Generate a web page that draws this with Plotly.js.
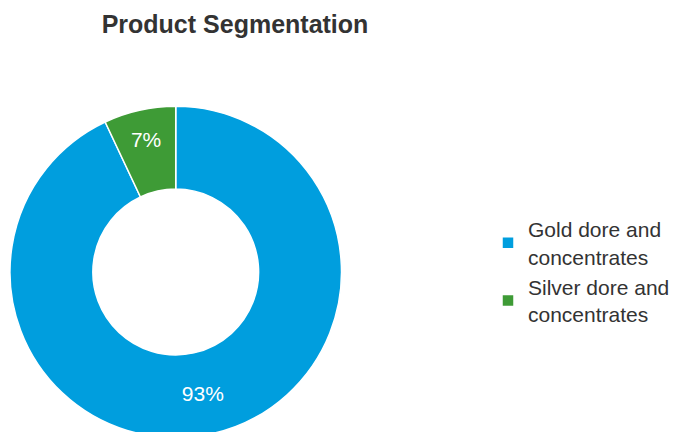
<!DOCTYPE html>
<html>
<head>
<meta charset="utf-8">
<script src="https://cdn.plot.ly/plotly-3.0.1.min.js"></script>
<style>
html,body{margin:0;padding:0;overflow:hidden;background:#fff;}
#chart{width:675px;height:440px;}
</style>
</head>
<body>
<div id="chart"></div>
<script>
const categories = ["Gold dore and<br>concentrates", "Silver dore and<br>concentrates"];
const shares = [93, 7];
const labelsText = ["93%", "7%"];
const colors = ["#009EDE", "#3E9B36"];

const W = 675, H = 440;
const trace = {
  type: "pie",
  labels: categories,
  values: shares,
  text: labelsText,
  textinfo: "text",
  textposition: "inside",
  insidetextorientation: "horizontal",
  insidetextfont: {family: "Liberation Sans, Arial, sans-serif", size: 21, color: "#ffffff"},
  hole: 0.5,
  sort: false,
  direction: "clockwise",
  rotation: 0,
  marker: {colors: colors, line: {color: "#ffffff", width: 1.5}},
  domain: {x: [10 / W, 342 / W], y: [1 - 438 / H, 1 - 106 / H]},
  hoverinfo: "label+percent"
};

const layout = {
  width: W,
  height: H,
  margin: {l: 0, r: 0, t: 0, b: 0},
  paper_bgcolor: "#ffffff",
  title: {
    text: "<b>Product Segmentation</b>",
    font: {family: "Liberation Sans, Arial, sans-serif", size: 25, color: "#333333"},
    x: 235 / W, xanchor: "center",
    y: 1 - 24 / H, yanchor: "middle"
  },
  showlegend: true,
  legend: {
    x: 489 / W, xanchor: "left",
    y: 1 - 209 / H, yanchor: "top",
    font: {family: "Liberation Sans, Arial, sans-serif", size: 21, color: "#333333"},
    bgcolor: "rgba(0,0,0,0)"
  }
};

Plotly.newPlot("chart", [trace], layout, {displayModeBar: false, staticPlot: true});
</script>
</body>
</html>
